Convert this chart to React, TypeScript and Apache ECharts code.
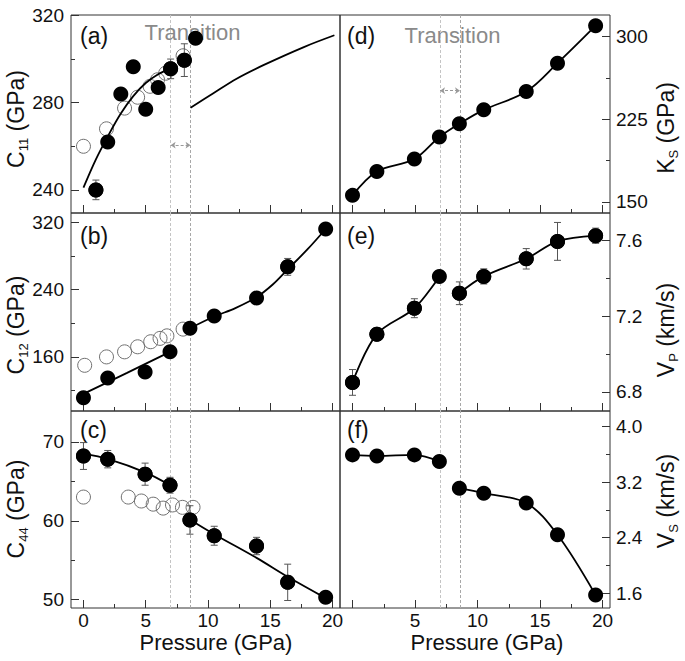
import React, { useEffect, useRef } from 'react';
import * as echarts from 'echarts';

// ---------- data ----------
// (a) C11
const P_A = [1.0, 1.95, 3.0, 4.0, 5.0, 6.0, 7.0, 8.1, 9.0];
const C11 = [240, 262, 284, 296.5, 277, 287, 295.5, 299.5, 309.5];
const C11_ERR = [4.5, 0, 0, 0, 0, 0, 4.5, 7.5, 0];
const P_A_OPEN = [0.0, 1.85, 3.3, 4.35, 5.35, 5.95, 6.6, 8.0];
const C11_OPEN = [260, 268, 277.5, 282.5, 287.5, 290.5, 293.5, 301.5];
const C11_FIT_LOW_P = [0, 1, 2, 3, 4, 5, 6, 6.9];
const C11_FIT_LOW = [241, 254, 265, 275, 283, 289, 293, 295.5];
const C11_FIT_HIGH_P = [8.6, 10.4, 12.3, 14.45, 17.7, 20.15];
const C11_FIT_HIGH = [277.7, 284.2, 291, 297.2, 305.5, 310.9];

// common pressures of filled points in (b)-(f)
const P = [0, 1.95, 4.95, 6.95, 8.55, 10.5, 13.9, 16.4, 19.45];

// (b) C12
const C12 = [111.5, 135, 142, 166, 194, 208.5, 230, 267, 312];
const C12_ERR = [0, 0, 0, 0, 0, 0, 0, 10, 0];
const P_B_OPEN = [0.1, 1.85, 3.3, 4.35, 5.4, 6.15, 6.7, 8.0];
const C12_OPEN = [150, 160, 166, 172, 178, 182, 185, 193];
const C12_FIT_LOW_P = [0, 3.5, 6.95];
const C12_FIT_LOW = [116, 141, 166];
const C12_FIT_HIGH_P = [8.55, 10.5, 12.2, 13.9, 15.2, 16.4, 18, 19.45];
const C12_FIT_HIGH = [194, 208, 218, 231, 246, 264, 288, 312];

// (c) C44
const C44 = [68.2, 67.8, 65.9, 64.5, 60.1, 58.1, 56.8, 52.2, 50.3];
const C44_ERR = [1.7, 1.1, 1.4, 1.0, 1.8, 1.2, 1.1, 2.3, 0];
const P_C_OPEN = [0.0, 3.6, 4.65, 5.6, 6.4, 7.15, 7.95, 8.8];
const C44_OPEN = [63.0, 63.0, 62.5, 62.1, 61.6, 62.0, 61.7, 61.7];
const C44_FIT_LOW_P = [0, 2, 5, 6.95];
const C44_FIT_LOW = [68.5, 67.8, 66.1, 64.5];
const C44_FIT_HIGH_P = [8.5, 10.5, 13.9, 16.4, 19.45];
const C44_FIT_HIGH = [60.2, 58.3, 55.3, 52.9, 50.2];

// (d) KS, (e) VP, (f) VS
const KS = [156, 177.7, 189, 209, 221, 233.6, 250.2, 276, 310];
const VP = [6.85, 7.105, 7.242, 7.41, 7.321, 7.41, 7.503, 7.595, 7.625];
const VP_ERR = [0.068, 0.03, 0.05, 0, 0.06, 0.04, 0.054, 0.1, 0.04];
const VS = [3.593, 3.578, 3.593, 3.497, 3.113, 3.04, 2.898, 2.44, 1.57];

const TRANSITION = [7.0, 8.6];
const ARROW_A = 260.5;
const ARROW_D = 251;

// tick values
const X_MAJOR = [0, 5, 10, 15, 20];
const X_MINOR = [2.5, 7.5, 12.5, 17.5];
const X_LABELS_LEFT = [0, 5, 10, 15, 20];
const X_LABELS_RIGHT = [5, 10, 15, 20];
const Y_A_MAJOR = [240, 280, 320];
const Y_A_MINOR = [260, 300];
const Y_B_MAJOR = [160, 240, 320];
const Y_B_MINOR = [120, 200, 280];
const Y_C_MAJOR = [50, 60, 70];
const Y_C_MINOR = [55, 65];
const Y_D_MAJOR = [150, 225, 300];
const Y_D_MINOR = [187.5, 262.5];
const Y_E_MAJOR = [6.8, 7.2, 7.6];
const Y_E_MINOR = [7.0, 7.4];
const Y_F_MAJOR = [1.6, 2.4, 3.2, 4.0];
const Y_F_MINOR = [2.0, 2.8, 3.6];

const FONT = '"Liberation Sans", Arial, sans-serif';

const zip = (xs: number[], ys: number[]) => xs.map((x, i) => [x, ys[i]]);

export default function App() {
  const ref = useRef<HTMLDivElement>(null);
  useEffect(() => {
    if (!ref.current) return;
    const chart = echarts.init(ref.current, null, { renderer: 'svg' });

    const xRange = [-1, 20.6];
    const cols = [
      { left: 71, width: 269 },
      { left: 340, width: 270 },
    ];
    const rows = [
      { top: 15, height: 198 },
      { top: 213, height: 198 },
      { top: 411, height: 197 },
    ];
    // panel order: a b c d e f
    const panels = [
      { col: 0, row: 0, yr: [229.4, 320.2], maj: Y_A_MAJOR, min: Y_A_MINOR, dec: 0 },
      { col: 0, row: 1, yr: [95.7, 331], maj: Y_B_MAJOR, min: Y_B_MINOR, dec: 0 },
      { col: 0, row: 2, yr: [48.95, 73.9], maj: Y_C_MAJOR, min: Y_C_MINOR, dec: 0 },
      { col: 1, row: 0, yr: [140, 319.7], maj: Y_D_MAJOR, min: Y_D_MINOR, dec: 0 },
      { col: 1, row: 1, yr: [6.699, 7.745], maj: Y_E_MAJOR, min: Y_E_MINOR, dec: 1 },
      { col: 1, row: 2, yr: [1.384, 4.226], maj: Y_F_MAJOR, min: Y_F_MINOR, dec: 1 },
    ];

    const noLine = { show: false, onZero: false };
    const grid: any[] = [];
    const xAxis: any[] = [];
    const yAxis: any[] = [];
    panels.forEach((p, gi) => {
      grid.push({
        left: cols[p.col].left,
        width: cols[p.col].width,
        top: rows[p.row].top,
        height: rows[p.row].height,
        show: true,
        borderColor: '#333',
        borderWidth: 1,
        backgroundColor: 'transparent',
      });
      const bottomRow = p.row === 2;
      xAxis.push({
        gridIndex: gi,
        type: 'value',
        min: xRange[0],
        max: xRange[1],
        position: 'bottom',
        axisLine: noLine,
        splitLine: { show: false },
        axisTick: {
          show: true,
          inside: true,
          length: 8,
          customValues: X_MAJOR,
          lineStyle: { color: '#333', width: 1 },
        },
        axisLabel: {
          show: bottomRow,
          customValues: p.col === 0 ? X_LABELS_LEFT : X_LABELS_RIGHT,
          fontSize: 19,
          lineHeight: 16,
          fontFamily: FONT,
          color: '#111',
          margin: 4,
        },
      });
      xAxis.push({
        gridIndex: gi,
        type: 'value',
        min: xRange[0],
        max: xRange[1],
        position: 'bottom',
        axisLine: noLine,
        splitLine: { show: false },
        axisTick: {
          show: true,
          inside: true,
          length: 4,
          customValues: X_MINOR,
          lineStyle: { color: '#333', width: 1 },
        },
        axisLabel: { show: false },
      });
      const pos = p.col === 0 ? 'left' : 'right';
      yAxis.push({
        gridIndex: gi,
        type: 'value',
        min: p.yr[0],
        max: p.yr[1],
        position: pos,
        axisLine: noLine,
        splitLine: { show: false },
        axisTick: {
          show: true,
          inside: true,
          length: 8,
          customValues: p.maj,
          lineStyle: { color: '#333', width: 1 },
        },
        axisLabel: {
          show: true,
          customValues: p.maj,
          fontSize: 19,
          fontFamily: FONT,
          color: '#111',
          margin: p.col === 0 ? 7 : 6,
          formatter: (v: number) => (p.dec ? v.toFixed(1) : String(Math.round(v))),
        },
      });
      yAxis.push({
        gridIndex: gi,
        type: 'value',
        min: p.yr[0],
        max: p.yr[1],
        position: pos,
        axisLine: noLine,
        splitLine: { show: false },
        axisTick: {
          show: true,
          inside: true,
          length: 4,
          customValues: p.min,
          lineStyle: { color: '#333', width: 1 },
        },
        axisLabel: { show: false },
      });
    });

    const ax = (gi: number) => ({ xAxisIndex: 2 * gi, yAxisIndex: 2 * gi });

    const filled = (gi: number, xs: number[], ys: number[]) => ({
      type: 'scatter',
      ...ax(gi),
      z: 4,
      symbol: 'circle',
      symbolSize: 15,
      itemStyle: { color: '#000', opacity: 1 },
      data: zip(xs, ys),
      silent: true,
    });
    const open = (gi: number, xs: number[], ys: number[]) => ({
      type: 'scatter',
      ...ax(gi),
      z: 2,
      symbol: 'circle',
      symbolSize: 14,
      itemStyle: {
        color: 'rgba(255,255,255,0)',
        borderColor: '#707070',
        borderWidth: 1,
        opacity: 1,
      },
      data: zip(xs, ys),
      silent: true,
    });
    const fit = (gi: number, xs: number[], ys: number[]) => ({
      type: 'line',
      ...ax(gi),
      z: 3,
      smooth: 0.35,
      showSymbol: false,
      symbol: 'none',
      lineStyle: { color: '#000', width: 1.8 },
      data: zip(xs, ys),
      silent: true,
    });
    // error bars, with the marker redrawn on top so the bar never crosses it
    const err = (gi: number, xs: number[], ys: number[], es: number[]) => ({
      type: 'custom',
      ...ax(gi),
      z: 5,
      silent: true,
      data: xs.map((x, i) => [x, ys[i], es[i]]).filter((d) => d[2] > 0),
      encode: { x: 0, y: 1 },
      renderItem: (_params: any, api: any) => {
        const x = api.value(0);
        const y = api.value(1);
        const e = api.value(2);
        const c = api.coord([x, y]);
        const t = api.coord([x, y + e]);
        const b = api.coord([x, y - e]);
        const w = 3.5;
        const st = { stroke: '#555', lineWidth: 1 };
        return {
          type: 'group',
          children: [
            { type: 'line', shape: { x1: t[0], y1: t[1], x2: b[0], y2: b[1] }, style: st },
            { type: 'line', shape: { x1: t[0] - w, y1: t[1], x2: t[0] + w, y2: t[1] }, style: st },
            { type: 'line', shape: { x1: b[0] - w, y1: b[1], x2: b[0] + w, y2: b[1] }, style: st },
            { type: 'circle', shape: { cx: c[0], cy: c[1], r: 7.5 }, style: { fill: '#000' } },
          ],
        };
      },
    });
    const trans = (gi: number, arrowY?: number) => {
      const data: any[] = [
        { xAxis: TRANSITION[0], lineStyle: { color: '#c4c4c4', type: [3, 2], width: 1 } },
        { xAxis: TRANSITION[1], lineStyle: { color: '#a8a8a8', type: [3, 2], width: 1 } },
      ];
      if (arrowY !== undefined) {
        data.push([
          { coord: [TRANSITION[0], arrowY], symbol: 'arrow', symbolSize: 5 },
          {
            coord: [TRANSITION[1], arrowY],
            symbol: 'arrow',
            symbolSize: 5,
            lineStyle: { color: '#999', type: [3, 2], width: 1 },
          },
        ]);
      }
      return {
        type: 'line',
        ...ax(gi),
        z: 1,
        data: [],
        silent: true,
        markLine: {
          z: 1,
          silent: true,
          symbol: ['none', 'none'],
          label: { show: false },
          animation: false,
          itemStyle: { color: '#999' },
          lineStyle: { color: '#999', type: [3, 2], width: 1 },
          data,
        },
      };
    };

    const series: any[] = [
      // (a)
      trans(0, ARROW_A),
      open(0, P_A_OPEN, C11_OPEN),
      fit(0, C11_FIT_LOW_P, C11_FIT_LOW),
      fit(0, C11_FIT_HIGH_P, C11_FIT_HIGH),
      filled(0, P_A, C11),
      err(0, P_A, C11, C11_ERR),
      // (b)
      trans(1),
      open(1, P_B_OPEN, C12_OPEN),
      fit(1, C12_FIT_LOW_P, C12_FIT_LOW),
      fit(1, C12_FIT_HIGH_P, C12_FIT_HIGH),
      filled(1, P, C12),
      err(1, P, C12, C12_ERR),
      // (c)
      trans(2),
      open(2, P_C_OPEN, C44_OPEN),
      fit(2, C44_FIT_LOW_P, C44_FIT_LOW),
      fit(2, C44_FIT_HIGH_P, C44_FIT_HIGH),
      filled(2, P, C44),
      err(2, P, C44, C44_ERR),
      // (d)
      trans(3, ARROW_D),
      fit(3, P, KS),
      filled(3, P, KS),
      // (e)
      trans(4),
      fit(4, P.slice(0, 4), VP.slice(0, 4)),
      fit(4, P.slice(4), VP.slice(4)),
      filled(4, P, VP),
      err(4, P, VP, VP_ERR),
      // (f)
      trans(5),
      fit(5, P.slice(0, 4), VS.slice(0, 4)),
      fit(5, P.slice(4), VS.slice(4)),
      filled(5, P, VS),
    ];

    const txt = (
      x: number,
      y: number,
      text: string,
      size: number,
      color = '#111',
      align = 'left',
      lineHeight?: number,
    ) => ({
      type: 'text',
      x,
      y,
      z: 0,
      silent: true,
      style: {
        text,
        fontSize: size,
        fontFamily: FONT,
        fill: color,
        align,
        verticalAlign: 'middle',
        ...(lineHeight ? { lineHeight } : {}),
      },
    });
    const ytitle = (x: number, y: number, main: string, sub: string, unit: string) => ({
      type: 'text',
      x,
      y,
      rotation: Math.PI / 2,
      z: 0,
      silent: true,
      style: {
        text: `{m|${main}}{s|${sub}}{m| ${unit}}`,
        align: 'center',
        verticalAlign: 'middle',
        fill: '#111',
        rich: {
          m: { fontSize: 23, fontFamily: FONT, fill: '#111', lineHeight: 28, verticalAlign: 'middle' },
          s: { fontSize: 13, fontFamily: FONT, fill: '#111', lineHeight: 28, verticalAlign: 'bottom' },
        },
      },
    });

    const graphic: any[] = [
      txt(80, 36, '(a)', 23),
      txt(80, 236, '(b)', 23),
      txt(80, 430, '(c)', 23),
      txt(347, 36, '(d)', 23),
      txt(347, 236, '(e)', 23),
      txt(347, 430, '(f)', 23),
      txt(192.5, 32, 'Transition', 22, '#8a8a8a', 'center'),
      txt(452.5, 35, 'Transition', 22, '#8a8a8a', 'center'),
      txt(216, 642, 'Pressure (GPa)', 22, '#111', 'center', 20),
      txt(487, 642, 'Pressure (GPa)', 22, '#111', 'center', 20),
      ytitle(16, 119, 'C', '11', '(GPa)'),
      ytitle(16, 325, 'C', '12', '(GPa)'),
      ytitle(16, 509, 'C', '44', '(GPa)'),
      ytitle(666, 128, 'K', 'S', '(GPa)'),
      ytitle(666, 330, 'V', 'P', '(km/s)'),
      ytitle(666, 501, 'V', 'S', '(km/s)'),
    ];

    chart.setOption({
      animation: false,
      backgroundColor: '#fff',
      grid,
      xAxis,
      yAxis,
      series,
      graphic,
    });
    return () => chart.dispose();
  }, []);

  return (
    <div
      ref={ref}
      style={{ position: 'fixed', left: 0, top: 0, width: 685, height: 661, background: '#fff' }}
    />
  );
}
